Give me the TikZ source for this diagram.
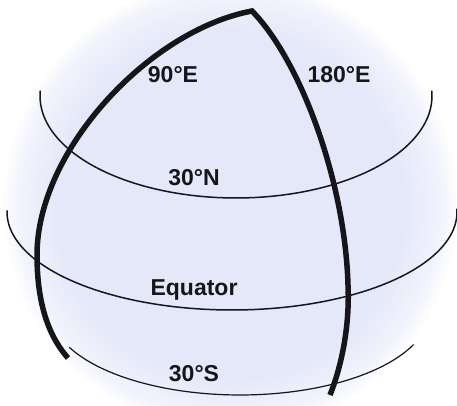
\documentclass[tikz,border=0pt]{standalone}
\usepackage{fontspec}
\setmainfont{Liberation Sans}
\definecolor{globe}{RGB}{229,232,249}
\definecolor{ink}{RGB}{22,22,26}
\pgfdeclareradialshading{globeshade}{\pgfpoint{0bp}{0bp}}{color(0bp)=(globe); color(19bp)=(globe); color(23bp)=(globe!55!white); color(25bp)=(white); color(50bp)=(white)}
\tikzset{
  lat/.style={draw=ink, line width=1.5pt},
  merid/.style={draw=ink, line width=5.5pt, line join=miter, miter limit=20},
  lbl/.style={font=\fontsize{23}{25}\selectfont\bfseries, text=ink, anchor=base, inner sep=0pt}
}
\begin{document}
\begin{tikzpicture}[x=1pt,y=-1pt]
\useasboundingbox (0,0) rectangle (457,406);
% globe
\path[shading=globeshade] (230,205) circle (228);
% latitude lines
\draw[lat] plot[domain=-3:183, samples=90] ({236+196*cos(\x)}, {96+102*sin(\x)});
\draw[lat] plot[domain=-2:181, samples=90] ({232+225*cos(\x)}, {212+98*sin(\x)});
\draw[lat, line width=1.2pt] plot[domain=24:154, samples=70] ({240+190*cos(\x)}, {310+85*sin(\x)});
% meridians
\coordinate (pole) at (252,11);
\coordinate (w1) at (37,255);
\coordinate (wend) at (68,358);
\coordinate (e1) at (348,285);
\coordinate (eend) at (330,395);
\draw[merid] (wend) .. controls (52,340) and (37,310) .. (w1)
  .. controls (37,150) and (150,30) .. (pole)
  .. controls (300,60) and (345,180) .. (e1)
  .. controls (350,330) and (340,370) .. (eend);
% labels
\node[lbl] (e90) at (173,83) {90°E};
\node[lbl] (e180) at (339,83) {180°E};
\node[lbl] (n30) at (194,185) {30°N};
\node[lbl] (eq) at (194,295) {Equator};
\node[lbl] (s30) at (194,381) {30°S};
\end{tikzpicture}
\end{document}
